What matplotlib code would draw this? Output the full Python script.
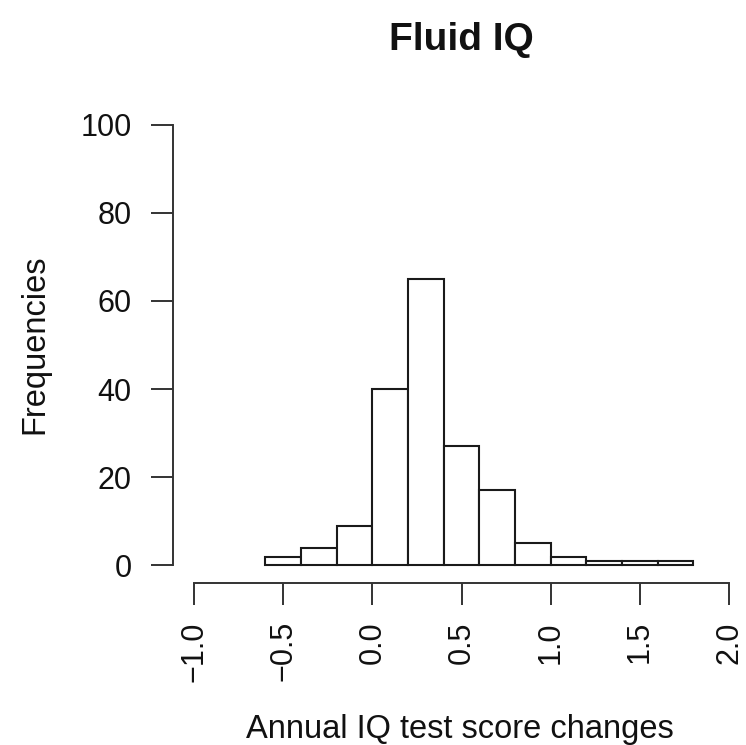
import numpy as np
import matplotlib
matplotlib.use("Agg")
import matplotlib.pyplot as plt

plt.rcParams['font.family'] = ['Liberation Sans', 'DejaVu Sans']

# histogram bins (width 0.2) and counts
bin_edges = np.round(np.arange(-0.6, 1.81, 0.2), 1)
counts = [2, 4, 9, 40, 65, 27, 17, 5, 2, 1, 1, 1]

x_ticks = [-1.0, -0.5, 0.0, 0.5, 1.0, 1.5, 2.0]
y_ticks = [0, 20, 40, 60, 80, 100]

fig = plt.figure(figsize=(7.46, 7.45), dpi=100)
ax = fig.add_axes([172.7 / 746, 1 - 583 / 745, (750.5 - 172.7) / 746, (583 - 107) / 745])

ax.bar(bin_edges[:-1], counts, width=np.diff(bin_edges), align='edge',
       facecolor='white', edgecolor='#1a1a1a', linewidth=1.5)

# R style axes: 4% padding, detached axis lines spanning the ticks
ax.set_xlim(-1.12, 2.12)
ax.set_ylim(-4, 104)
for s in ['top', 'right']:
    ax.spines[s].set_visible(False)
ax.spines['left'].set_bounds(0, 100)
ax.spines['bottom'].set_bounds(-1, 2)
for s in ['left', 'bottom']:
    ax.spines[s].set_linewidth(1.4)
    ax.spines[s].set_color('#333333')

ax.set_xticks(x_ticks)
ax.set_xticklabels([f"{v:.1f}".replace("-", "\u2212") for v in x_ticks], rotation=90)
ax.set_yticks(y_ticks)
ax.set_yticklabels([str(v) for v in y_ticks])
ax.tick_params(axis='both', length=15.5, width=1.4, color='#333333',
               labelsize=22, labelcolor='#111111')
ax.tick_params(axis='x', pad=12)
ax.tick_params(axis='y', pad=14)

fig.text(461 / 746, 1 - 50 / 745, "Fluid IQ", ha='center', va='baseline',
         fontsize=28, fontweight='bold', color='#111111')
fig.text(460 / 746, 1 - 738 / 745, "Annual IQ test score changes",
         ha='center', va='baseline', fontsize=23.5, color='#111111')
fig.text(43 / 746, 1 - 344 / 745, "Frequencies", ha='center', va='baseline',
         rotation=90, rotation_mode='anchor', fontsize=23.5, color='#111111')

fig.savefig("out.png", dpi=100)
